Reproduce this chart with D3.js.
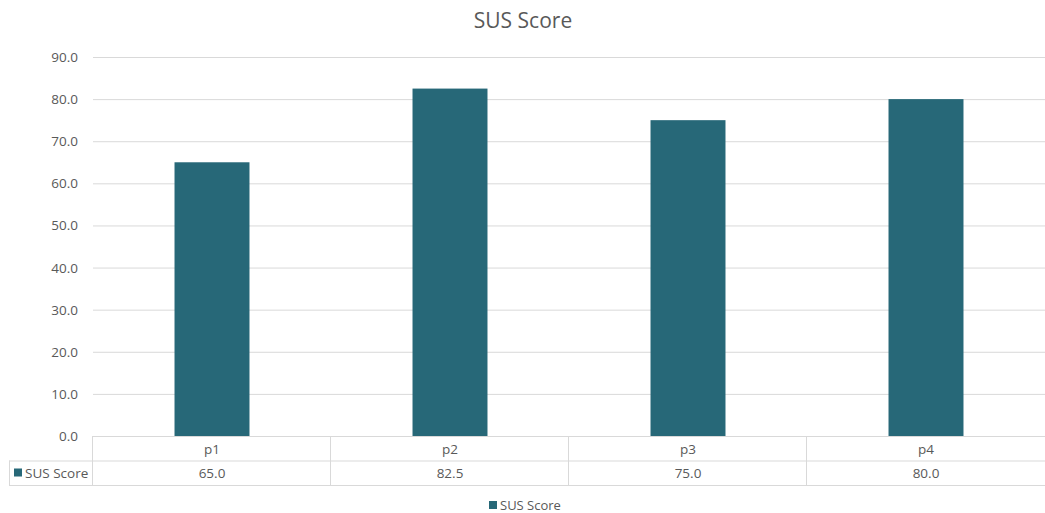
<!DOCTYPE html>
<html lang="en">
<head>
    <meta charset="UTF-8">
    <title>SUS Score</title>
    <script src="https://d3js.org/d3.v7.min.js"></script>
    <style>
        body { margin: 0; background: #fff; }
        text { font-family: "Open Sans", "Noto Sans", sans-serif; fill: #595959; }
    </style>
</head>
<body>
    <svg width="1045" height="513"></svg>
    <script>
        const participants = ["p1", "p2", "p3", "p4"];
        const susScores = [65.0, 82.5, 75.0, 80.0];
        const yTicks = [0, 10, 20, 30, 40, 50, 60, 70, 80, 90];
        const seriesName = "SUS Score";

        const barColor = "#276878";
        const gridColor = "#d9d9d9";

        const svg = d3.select("svg");

        const plotLeft = 93, plotRight = 1045, plotTop = 57, plotBottom = 436;
        const rowH = 24.5;

        const x = d3.scaleBand().domain(participants).range([plotLeft, plotRight]).paddingInner(0).paddingOuter(0);
        const y = d3.scaleLinear().domain([0, 90]).range([plotBottom, plotTop]);

        // title
        svg.append("text")
            .attr("x", 523).attr("y", 28)
            .attr("text-anchor", "middle")
            .attr("font-size", 21)
            .text(seriesName);

        // gridlines
        svg.append("g").selectAll("line")
            .data(yTicks)
            .join("line")
            .attr("x1", plotLeft).attr("x2", plotRight)
            .attr("y1", d => y(d) + 0.5).attr("y2", d => y(d) + 0.5)
            .attr("stroke", gridColor);

        // y labels
        svg.append("g").selectAll("text")
            .data(yTicks)
            .join("text")
            .attr("x", 78)
            .attr("y", d => y(d) + 5)
            .attr("text-anchor", "end")
            .attr("font-size", 13.5)
            .text(d => d.toFixed(1));

        // bars
        const barW = x.bandwidth() * 0.315;
        svg.append("g").selectAll("rect")
            .data(susScores)
            .join("rect")
            .attr("x", (d, i) => x(participants[i]) + (x.bandwidth() - barW) / 2)
            .attr("y", d => y(d))
            .attr("width", barW)
            .attr("height", d => y(0) - y(d))
            .attr("fill", barColor);

        // data table
        const table = svg.append("g").attr("stroke", gridColor).attr("fill", "none");
        const tableLeft = 9;
        table.append("line").attr("x1", tableLeft).attr("x2", plotRight).attr("y1", plotBottom + rowH + 0.5).attr("y2", plotBottom + rowH + 0.5);
        table.append("line").attr("x1", tableLeft).attr("x2", plotRight).attr("y1", plotBottom + 2 * rowH + 0.5).attr("y2", plotBottom + 2 * rowH + 0.5);
        table.append("line").attr("x1", tableLeft + 0.5).attr("x2", tableLeft + 0.5).attr("y1", plotBottom + rowH).attr("y2", plotBottom + 2 * rowH);
        table.selectAll("line.v")
            .data(participants)
            .join("line")
            .attr("class", "v")
            .attr("x1", d => Math.round(x(d)) - 0.5)
            .attr("x2", d => Math.round(x(d)) - 0.5)
            .attr("y1", plotBottom)
            .attr("y2", plotBottom + 2 * rowH);

        // category labels
        svg.append("g").selectAll("text")
            .data(participants)
            .join("text")
            .attr("x", d => x(d) + x.bandwidth() / 2)
            .attr("y", plotBottom + 17.5)
            .attr("text-anchor", "middle")
            .attr("font-size", 13.5)
            .text(d => d);

        // values row
        svg.append("g").selectAll("text")
            .data(susScores)
            .join("text")
            .attr("x", (d, i) => x(participants[i]) + x.bandwidth() / 2)
            .attr("y", plotBottom + rowH + 17.5)
            .attr("text-anchor", "middle")
            .attr("font-size", 13.5)
            .text(d => d.toFixed(1));

        // row header key
        svg.append("rect").attr("x", 14).attr("y", plotBottom + rowH + 8).attr("width", 8).attr("height", 8).attr("fill", barColor);
        svg.append("text").attr("x", 25).attr("y", plotBottom + rowH + 17.5).attr("font-size", 13.5).text(seriesName);

        // legend
        svg.append("rect").attr("x", 489).attr("y", 501).attr("width", 8).attr("height", 8).attr("fill", barColor);
        svg.append("text").attr("x", 500).attr("y", 509.5).attr("font-size", 13).text(seriesName);
    </script>
</body>
</html>
